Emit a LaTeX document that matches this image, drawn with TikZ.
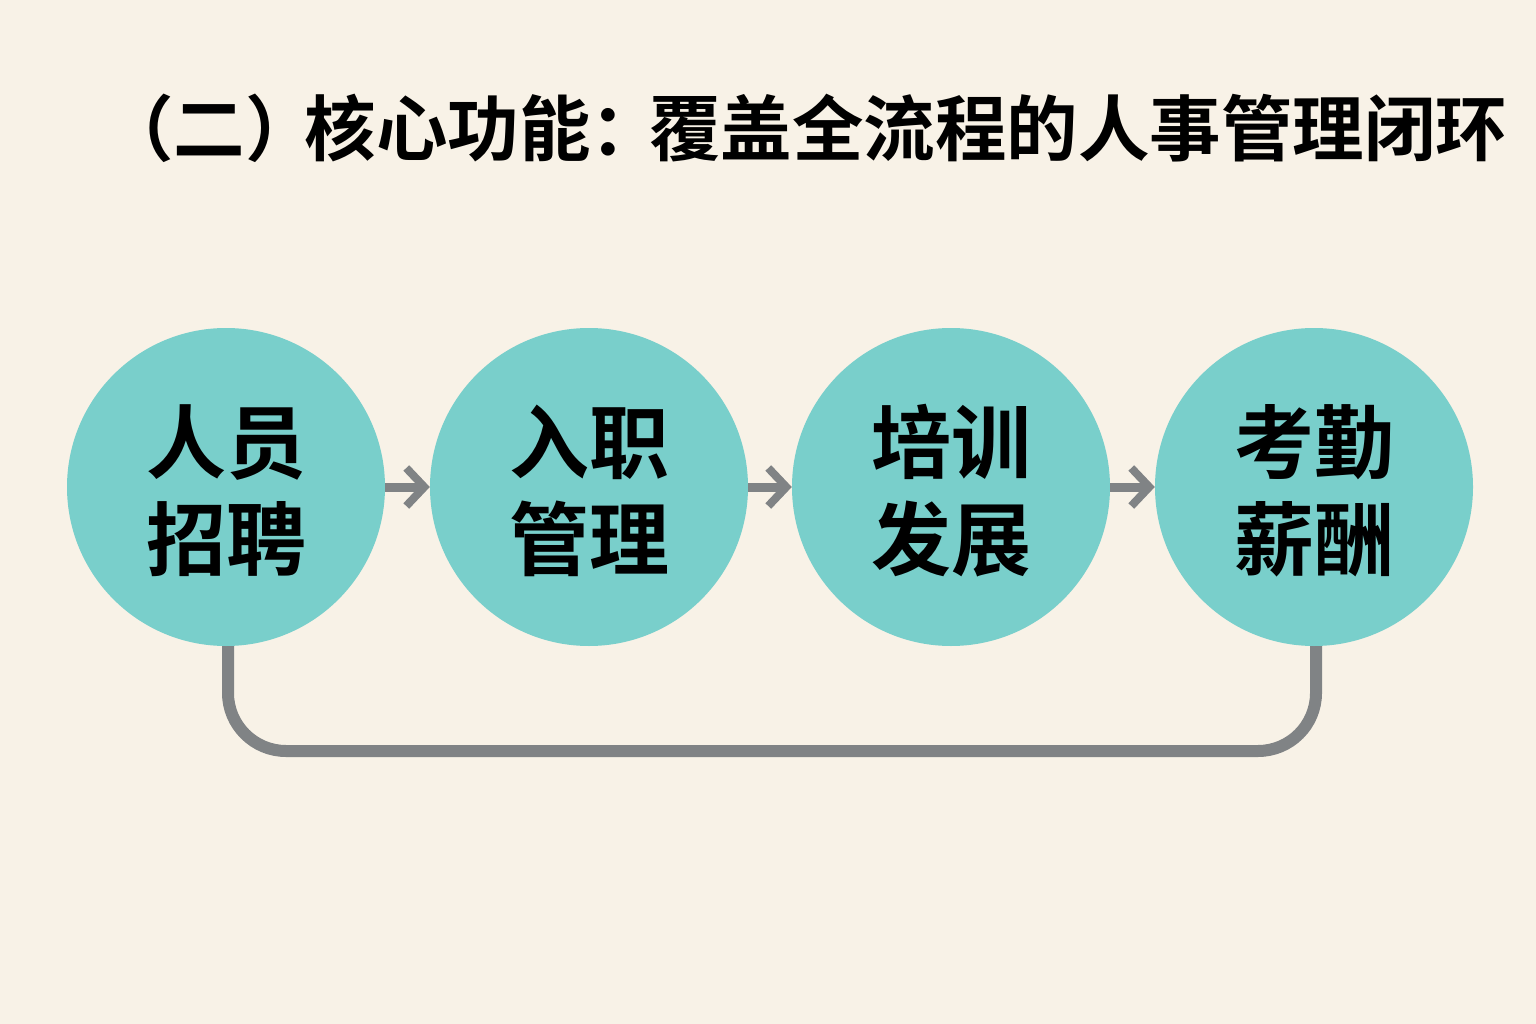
\documentclass[tikz,border=0pt]{standalone}
\usepackage{fontspec}
\newfontfamily\cjk{Noto Sans CJK SC Bold}
\usetikzlibrary{arrows.meta}
\definecolor{bgc}{HTML}{F8F2E7}
\definecolor{teal}{HTML}{79CFCB}
\definecolor{grayl}{HTML}{808385}
\tikzset{
  stage/.style={circle,fill=teal,minimum size=318pt,inner sep=0pt},
  stagetext/.style={align=center,inner sep=0pt,yshift=-4pt,
    font=\cjk\fontsize{80}{97}\selectfont,text=black},
  flow/.style={draw=grayl,line width=9pt,-{Straight Barb[length=18pt,width=38pt,line width=8pt]}},
  loop/.style={draw=grayl,line width=12pt,rounded corners=58pt}
}
\begin{document}
\begin{tikzpicture}[x=1pt,y=-1pt]
\fill[bgc] (0,0) rectangle (1536,1024);
\useasboundingbox (0,0) rectangle (1536,1024);
\node[anchor=west,inner sep=0pt,font=\cjk\fontsize{71.5}{71.5}\selectfont] (title) at (102,128) {（二）\hspace{-12pt}核心功能：\hspace{-13pt}覆盖全流程的人事管理闭环};
\coordinate (lc1) at (228,751);
\coordinate (lc2) at (1316,751);
\draw[loop] (228,640) -- (lc1) -- (lc2) -- (1316,640);
\node[stage] (s1) at (226,487) {};
\node[stage] (s2) at (589,487) {};
\node[stage] (s3) at (951,487) {};
\node[stage] (s4) at (1314,487) {};
\node[stagetext] (t1) at (s1) {人员\\招聘};
\node[stagetext] (t2) at (s2) {入职\\管理};
\node[stagetext] (t3) at (s3) {培训\\发展};
\node[stagetext] (t4) at (s4) {考勤\\薪酬};
\draw[flow] (s1.east) -- (s2.west);
\draw[flow] (s2.east) -- (s3.west);
\draw[flow] (s3.east) -- (s4.west);
\end{tikzpicture}
\end{document}
